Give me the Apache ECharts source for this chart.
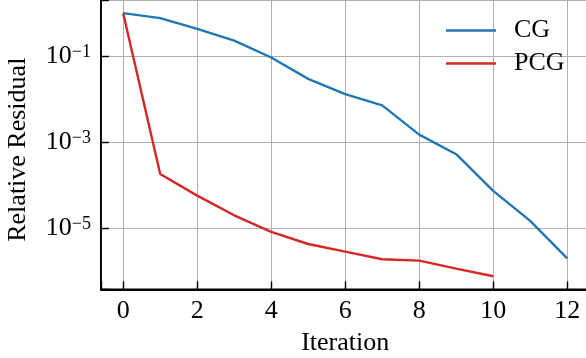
<!DOCTYPE html>
<html><head><meta charset="utf-8">
<script src="https://cdn.jsdelivr.net/npm/echarts@6/dist/echarts.min.js"></script>
<style>html,body{margin:0;padding:0;background:#fff}#c{width:586px;height:358px}</style>
</head><body><div id="c"></div>
<script>
// ---- data ----
const iterations = [0, 1, 2, 3, 4, 5, 6, 7, 8, 9, 10, 11, 12];
const cgResidual = [1.0, 0.766, 0.43, 0.23, 0.093, 0.0297, 0.0131, 0.0072, 0.0015, 5.26e-4, 7.4e-5, 1.48e-5, 2.0e-6];
const pcgResidual = [1.0, 1.83e-4, 5.73e-5, 2.0e-5, 8.2e-6, 4.3e-6, 2.86e-6, 1.9e-6, 1.77e-6, 1.15e-6, 7.65e-7];
const seriesNames = ['CG', 'PCG'];
const yTickExponents = [-5, -3, -1];
const xTickLabels = ['0', '2', '4', '6', '8', '10', '12'];

// log10 axis, shifted by one decade so that ECharts' nice ticks (multiples of 2) land on odd decades
const DECADE_SHIFT = 1;
const toAxis = v => Math.log10(v) + DECADE_SHIFT;
const pairs = (xs, ys) => ys.map((y, i) => [xs[i], toAxis(y)]);

const FONT = 'Liberation Serif';
const FS = 26;
const chart = echarts.init(document.getElementById('c'), null, {renderer: 'canvas'});
chart.setOption({
  animation: false,
  backgroundColor: '#fff',
  textStyle: {fontFamily: FONT, color: '#000'},
  grid: {left: 101, top: 0, width: 488.4, height: 289.4, outerBoundsMode: 'none', containLabel: false,
         show: true, borderColor: '#000', borderWidth: 1.8, backgroundColor: 'transparent'},
  legend: {
    data: seriesNames, orient: 'vertical', left: 441, top: 12.5,
    itemWidth: 50, itemHeight: 2.6, itemGap: 7, icon: 'rect',
    textStyle: {fontFamily: FONT, fontSize: FS, color: '#000', padding: [0, 0, 0, 13]}
  },
  xAxis: {
    type: 'value', min: -0.6, max: 12.6, splitNumber: 6,
    name: 'Iteration', nameLocation: 'middle', nameGap: 41,
    nameTextStyle: {fontFamily: FONT, fontSize: FS, color: '#000'},
    axisLine: {show: true, onZero: false, lineStyle: {color: '#000', width: 1.8}},
    axisTick: {show: true, inside: true, length: 8, lineStyle: {color: '#000', width: 1.4}},
    axisLabel: {margin: 9, fontFamily: FONT, fontSize: FS, color: '#000',
      formatter: v => xTickLabels.includes(String(v)) ? String(v) : ''},
    splitLine: {show: true, lineStyle: {color: '#b0b0b0', width: 1}}
  },
  yAxis: {
    type: 'value', min: -6.422 + DECADE_SHIFT, max: 0.306 + DECADE_SHIFT, splitNumber: 3,
    name: 'Relative Residual', nameLocation: 'middle', nameRotate: 90, nameGap: 70,
    nameTextStyle: {fontFamily: FONT, fontSize: FS, color: '#000', padding: [0, 10, 0, 0]},
    axisLine: {show: true, onZero: false, lineStyle: {color: '#000', width: 1.8}},
    axisTick: {show: true, inside: true, length: 8, lineStyle: {color: '#000', width: 1.4}},
    axisLabel: {margin: 10, fontFamily: FONT, color: '#000',
      formatter: v => {
        const e = Math.round((v - DECADE_SHIFT) * 1000) / 1000;
        if (!yTickExponents.includes(e)) return '';
        return '{b|10}{s|' + (e < 0 ? '\u2212' : '') + Math.abs(e) + '}';
      },
      rich: {
        b: {fontFamily: FONT, fontSize: FS, lineHeight: 26, verticalAlign: 'bottom', color: '#000'},
        s: {fontFamily: FONT, fontSize: 18, lineHeight: 18, padding: [0, 0, 13, 0], verticalAlign: 'top', color: '#000'}
      }
    },
    splitLine: {show: true, lineStyle: {color: '#b0b0b0', width: 1}}
  },
  series: [
    {name: seriesNames[0], type: 'line', data: pairs(iterations, cgResidual), showSymbol: false, symbol: 'none',
     lineStyle: {color: '#1f77b4', width: 2.4}, itemStyle: {color: '#1f77b4'}, z: 3},
    {name: seriesNames[1], type: 'line', data: pairs(iterations, pcgResidual), showSymbol: false, symbol: 'none',
     lineStyle: {color: '#d62728', width: 2.4}, itemStyle: {color: '#d62728'}, z: 4}
  ]
});
</script></body></html>
